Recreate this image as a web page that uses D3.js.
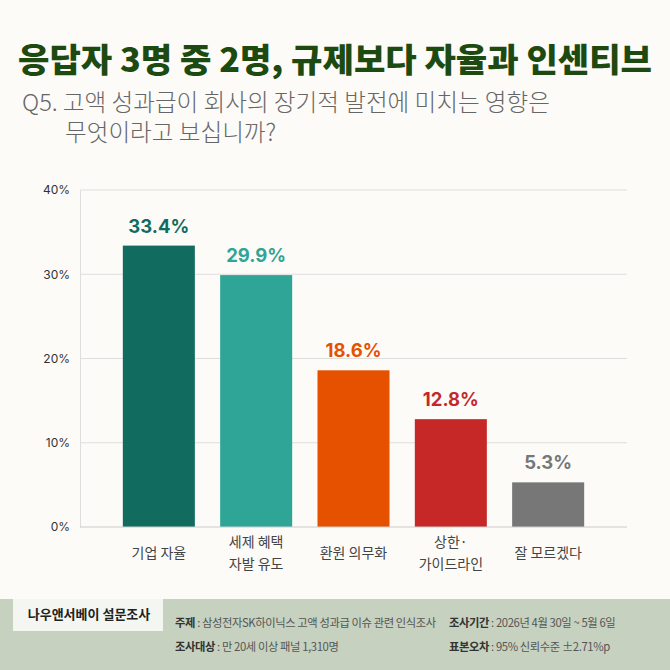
<!DOCTYPE html>
<html>
<head>
<meta charset="utf-8">
<script src="https://cdn.jsdelivr.net/npm/d3@7"></script>
<style>
  body { margin: 0; background: #fdfbf8; }
  svg { display: block; font-family: "Noto Sans CJK KR", "Noto Sans", sans-serif; }
</style>
</head>
<body>
<div id="chart"></div>
<script>
//  Data
var categories = [["기업 자율"], ["세제 혜택", "자발 유도"], ["환원 의무화"], ["상한·", "가이드라인"], ["잘 모르겠다"]];
var values = [33.4, 29.9, 18.6, 12.8, 5.3];
var barColors = ["#116b5f", "#2fa597", "#e65100", "#c62828", "#777777"];
var yTicks = [0, 10, 20, 30, 40];

var footLeft = [["주제", "삼성전자SK하이닉스 고액 성과급 이슈 관련 인식조사"], ["조사대상", "만 20세 이상 패널 1,310명"]];
var footRight = [["조사기간", "2026년 4월 30일 ~ 5월 6일"], ["표본오차", "95% 신뢰수준 ±2.71%p"]];

//  Layout
var W = 670, H = 670;
var plotLeft = 80, plotRight = 627, plotTop = 190, plotBottom = 527;

var svg = d3.select("#chart").append("svg")
  .attr("width", W).attr("height", H);

svg.append("rect").attr("width", W).attr("height", H).attr("fill", "#fdfbf8");

//  Title
svg.append("text")
  .attr("x", 18).attr("y", 72)
  .attr("font-size", 33).attr("font-weight", 900)
  .attr("fill", "#1d4a10")
  .attr("textLength", 634).attr("lengthAdjust", "spacingAndGlyphs")
  .text("응답자 3명 중 2명, 규제보다 자율과 인센티브");

//  Subtitle (two lines, one text)
var sub = svg.append("text")
  .attr("font-size", 23.6).attr("font-weight", 300).attr("fill", "#666");
sub.append("tspan").attr("x", 22).attr("y", 111)
  .text("Q5. 고액 성과급이 회사의 장기적 발전에 미치는 영향은");
sub.append("tspan").attr("x", 65).attr("y", 141)
  .text("무엇이라고 보십니까?");

//  Scales
var x = d3.scaleBand()
  .domain(d3.range(values.length))
  .range([plotLeft, plotRight])
  .paddingInner(0.26)
  .paddingOuter(0.44);
var y = d3.scaleLinear().domain([0, 40]).range([plotBottom, plotTop]);

//  Grid
svg.append("g")
  .selectAll("line").data(yTicks.slice(1)).join("line")
  .attr("x1", plotLeft).attr("x2", plotRight)
  .attr("y1", function(d) { return y(d); }).attr("y2", function(d) { return y(d); })
  .attr("stroke", "#dedede").attr("stroke-width", 1);

var yAxis = svg.append("g")
  .attr("transform", "translate(" + plotLeft + ",0)")
  .call(d3.axisLeft(y).tickValues(yTicks).tickSize(0).tickPadding(10).tickFormat(function(d) { return d + "%"; }));
yAxis.select(".domain").attr("stroke", "#dedede");
yAxis.selectAll("text").attr("font-size", 12).attr("fill", "#333").attr("font-family", "Inter, sans-serif");

//  Bars
svg.append("g")
  .selectAll("rect").data(values).join("rect")
  .attr("x", function(d, i) { return x(i); })
  .attr("y", function(d) { return y(d); })
  .attr("width", x.bandwidth())
  .attr("height", function(d) { return plotBottom - y(d); })
  .attr("fill", function(d, i) { return barColors[i]; });

svg.append("line")
  .attr("x1", plotLeft).attr("x2", plotRight).attr("y1", plotBottom).attr("y2", plotBottom)
  .attr("stroke", "#cccccc");

//  Value labels
svg.append("g")
  .selectAll("text").data(values).join("text")
  .attr("x", function(d, i) { return x(i) + x.bandwidth() / 2; })
  .attr("y", function(d) { return y(d) - 13; })
  .attr("text-anchor", "middle")
  .attr("font-size", 18.5).attr("font-weight", 700)
  .attr("font-family", "Inter, sans-serif")
  .attr("fill", function(d, i) { return barColors[i]; })
  .text(function(d) { return d.toFixed(1) + "%"; });

//  Category labels
var cat = svg.append("g")
  .selectAll("text").data(categories).join("text")
  .attr("text-anchor", "middle")
  .attr("font-size", 14).attr("fill", "#444");
cat.each(function(lines, i) {
  var cx = x(i) + x.bandwidth() / 2;
  var y0 = lines.length == 1 ? 558 : 547;
  d3.select(this).selectAll("tspan").data(lines).join("tspan")
    .attr("x", cx)
    .attr("y", function(d, j) { return y0 + j * 22; })
    .text(function(d) { return d; });
});

//  Footer
svg.append("rect")
  .attr("x", 0).attr("y", 599).attr("width", W).attr("height", H - 599)
  .attr("fill", "#c6d1bf");
svg.append("rect")
  .attr("x", 13).attr("y", 599).attr("width", 150).attr("height", 32)
  .attr("fill", "#f4f6f1");
svg.append("text")
  .attr("x", 89).attr("y", 619)
  .attr("text-anchor", "middle")
  .attr("font-size", 13).attr("font-weight", 700).attr("fill", "#222")
  .text("나우앤서베이 설문조사");

function footRow(items, x0) {
  items.forEach(function(it, i) {
    var t = svg.append("text")
      .attr("x", x0).attr("y", 627 + i * 24)
      .attr("font-size", 11.3).attr("fill", "#555")
      .attr("letter-spacing", -0.4);
    t.append("tspan").attr("font-weight", 700).attr("fill", "#333").text(it[0]);
    t.append("tspan").text(" : " + it[1]);
  });
}
footRow(footLeft, 175);
footRow(footRight, 449);
</script>
</body>
</html>
